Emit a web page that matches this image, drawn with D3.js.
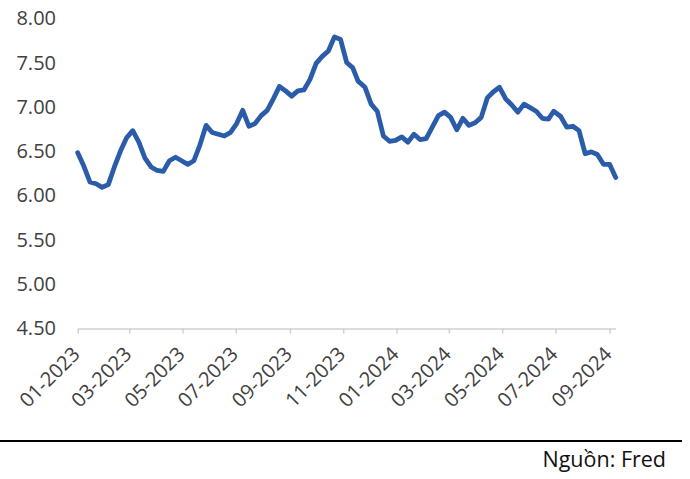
<!DOCTYPE html>
<html>
<head>
<meta charset="utf-8">
<script src="https://cdn.jsdelivr.net/npm/d3@7"></script>
<style>
  html, body { margin: 0; padding: 0; background: #fff; }
  svg { display: block; font-family: "Open Sans", "Noto Sans", sans-serif; }
</style>
</head>
<body>
<svg id="chart" width="690" height="479"></svg>
<script>
// ---- Data (Freddie Mac 30-year fixed mortgage rate, weekly) ----
const dates = [
  "2023-01-05","2023-01-12","2023-01-19","2023-01-26","2023-02-02","2023-02-09","2023-02-16","2023-02-23",
  "2023-03-02","2023-03-09","2023-03-16","2023-03-23","2023-03-30","2023-04-06","2023-04-13","2023-04-20",
  "2023-04-27","2023-05-04","2023-05-11","2023-05-18","2023-05-25","2023-06-01","2023-06-08","2023-06-15",
  "2023-06-22","2023-06-29","2023-07-06","2023-07-13","2023-07-20","2023-07-27","2023-08-03","2023-08-10",
  "2023-08-17","2023-08-24","2023-08-31","2023-09-07","2023-09-14","2023-09-21","2023-09-28","2023-10-05",
  "2023-10-12","2023-10-19","2023-10-26","2023-11-02","2023-11-09","2023-11-16","2023-11-22","2023-11-30",
  "2023-12-07","2023-12-14","2023-12-21","2023-12-28","2024-01-04","2024-01-11","2024-01-18","2024-01-25",
  "2024-02-01","2024-02-08","2024-02-15","2024-02-22","2024-02-29","2024-03-07","2024-03-14","2024-03-21",
  "2024-03-28","2024-04-04","2024-04-11","2024-04-18","2024-04-25","2024-05-02","2024-05-09","2024-05-16",
  "2024-05-23","2024-05-30","2024-06-06","2024-06-13","2024-06-20","2024-06-27","2024-07-03","2024-07-11",
  "2024-07-18","2024-07-25","2024-08-01","2024-08-08","2024-08-15","2024-08-22","2024-08-29","2024-09-05",
  "2024-09-12"
];
const rates = [
  6.48,6.33,6.15,6.13,6.09,6.12,6.32,6.50,
  6.65,6.73,6.60,6.42,6.32,6.28,6.27,6.39,
  6.43,6.39,6.35,6.39,6.57,6.79,6.71,6.69,
  6.67,6.71,6.81,6.96,6.78,6.81,6.90,6.96,
  7.09,7.23,7.18,7.12,7.18,7.19,7.31,7.49,
  7.57,7.63,7.79,7.76,7.50,7.44,7.29,7.22,
  7.03,6.95,6.67,6.61,6.62,6.66,6.60,6.69,
  6.63,6.64,6.77,6.90,6.94,6.88,6.74,6.87,
  6.79,6.82,6.88,7.10,7.17,7.22,7.09,7.02,
  6.94,7.03,6.99,6.95,6.87,6.86,6.95,6.89,
  6.77,6.78,6.73,6.47,6.49,6.46,6.35,6.35,
  6.20
];
const yTicks = [4.5, 5.0, 5.5, 6.0, 6.5, 7.0, 7.5, 8.0];
const xTickDates = ["2023-01-05","2023-03-05","2023-05-05","2023-07-05","2023-09-05","2023-11-05",
                    "2024-01-05","2024-03-05","2024-05-05","2024-07-05","2024-09-05"];
const xTickLabels = ["01-2023","03-2023","05-2023","07-2023","09-2023","11-2023",
                     "01-2024","03-2024","05-2024","07-2024","09-2024"];
const sourceText = "Nguồn: Fred";

// ---- Drawing ----
const parse = d3.timeParse("%Y-%m-%d");
const data = dates.map((d, i) => ({ date: parse(d), value: rates[i] }));
const tickDates = xTickDates.map(parse);

const svg = d3.select("#chart");
const axisY = 328.5;

const x = d3.scaleTime()
  .domain([parse(dates[0]), parse(dates[dates.length - 1])])
  .range([77.7, 615.7]);
const y = d3.scaleLinear().domain([4.5, 8.0]).range([328, 18.3]);

// y labels (no axis line)
svg.append("g").selectAll("text")
  .data(yTicks).join("text")
  .attr("x", 56)
  .attr("y", d => y(d))
  .attr("dy", "0.35em")
  .attr("text-anchor", "end")
  .attr("fill", "#404040")
  .style("font-size", "20px")
  .text(d => d.toFixed(2));

// x axis
const xAxis = d3.axisBottom(x)
  .tickValues(tickDates)
  .tickSize(5)
  .tickSizeOuter(0)
  .tickFormat((d, i) => xTickLabels[i]);

const gx = svg.append("g")
  .attr("transform", `translate(0,${axisY})`)
  .call(xAxis);
gx.select(".domain").attr("stroke", "#d0d0d0").attr("stroke-width", 1.5);
gx.selectAll(".tick line").attr("stroke", "#d0d0d0").attr("stroke-width", 1.5);
gx.selectAll(".tick text")
  .attr("fill", "#404040")
  .style("font-size", "20px")
  .style("font-family", "'Open Sans', 'Noto Sans', sans-serif")
  .attr("text-anchor", "end")
  .attr("dy", 0)
  .attr("y", 0)
  .attr("transform", "translate(3,27) rotate(-45)");

// line
const line = d3.line()
  .x(d => x(d.date))
  .y(d => y(d.value));

svg.append("path")
  .datum(data)
  .attr("d", line)
  .attr("fill", "none")
  .attr("stroke", "#2a5caa")
  .attr("stroke-width", 4.8)
  .attr("stroke-linejoin", "round")
  .attr("stroke-linecap", "round");

// bottom rule + source
svg.append("line")
  .attr("x1", 0).attr("x2", 682)
  .attr("y1", 441).attr("y2", 441)
  .attr("stroke", "#000").attr("stroke-width", 2);

svg.append("text")
  .attr("x", 666)
  .attr("y", 467)
  .attr("text-anchor", "end")
  .attr("fill", "#111")
  .style("font-size", "21.5px")
  .text(sourceText);
</script>
</body>
</html>
